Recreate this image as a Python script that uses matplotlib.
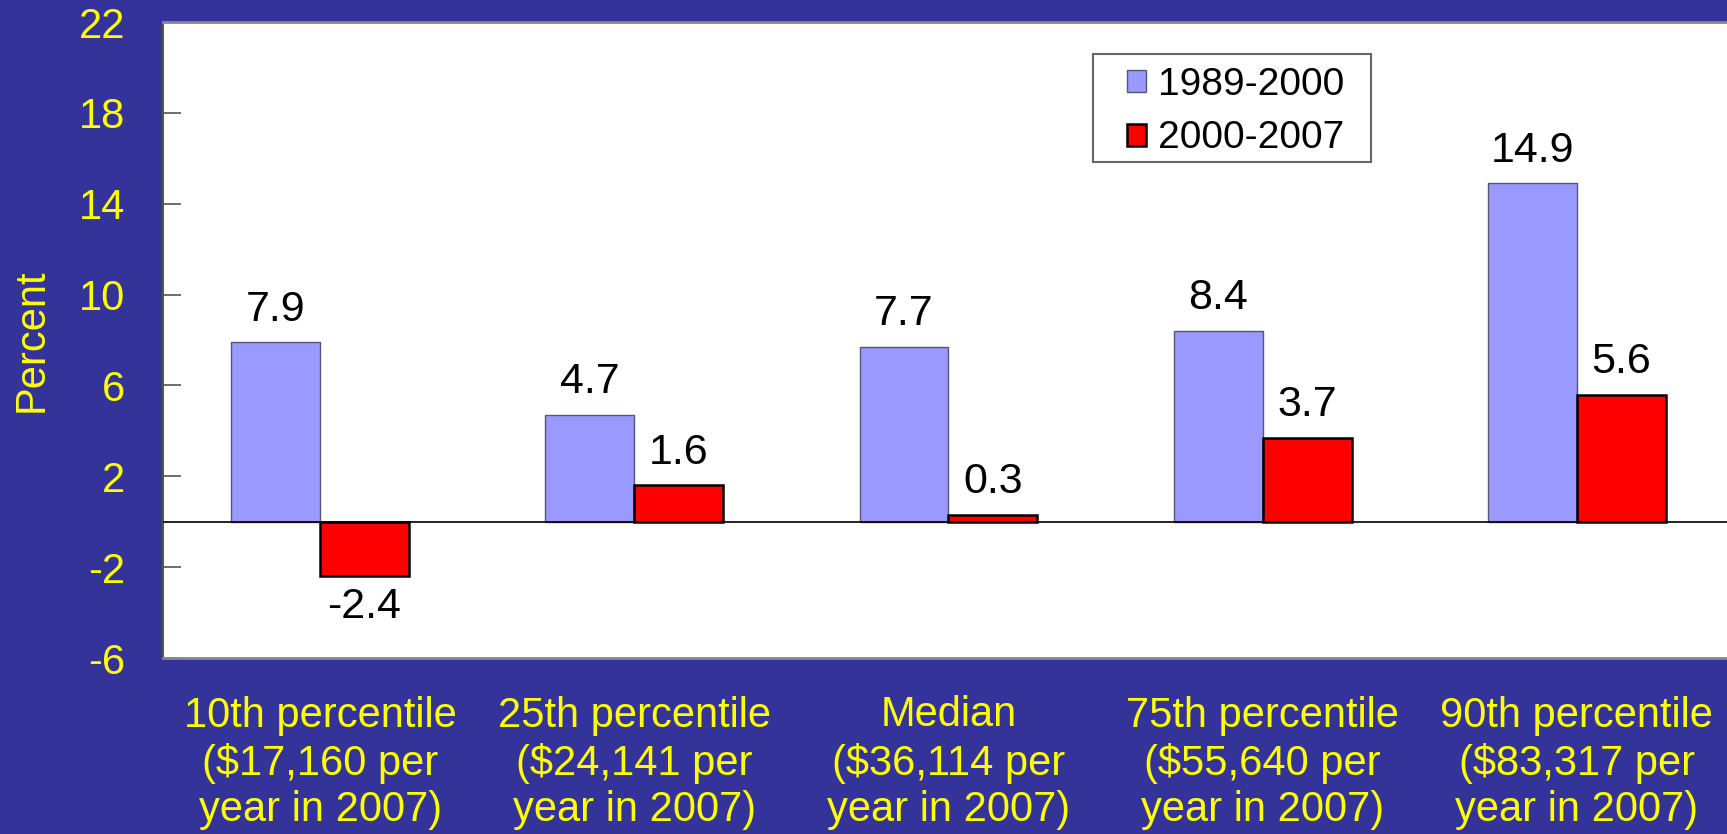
import numpy as np
import matplotlib.pyplot as plt
from matplotlib.patches import Rectangle

# data
categories = ['10th percentile\n($17,160 per\nyear in 2007)',
              '25th percentile\n($24,141 per\nyear in 2007)',
              'Median\n($36,114 per\nyear in 2007)',
              '75th percentile\n($55,640 per\nyear in 2007)',
              '90th percentile\n($83,317 per\nyear in 2007)']
s1989_2000 = [7.9, 4.7, 7.7, 8.4, 14.9]
s2000_2007 = [-2.4, 1.6, 0.3, 3.7, 5.6]
yticks = [-6, -2, 2, 6, 10, 14, 18, 22]

plt.rcParams['font.family'] = ['Liberation Sans', 'DejaVu Sans']

bg = '#333399'
yellow = '#FFFF00'

fig = plt.figure(figsize=(17.27, 8.34), dpi=100, facecolor=bg)
ax = fig.add_axes([163 / 1727, 1 - 658 / 834, 1 - 163 / 1727 + 0.004, 636 / 834])
ax.set_facecolor('white')

x = np.arange(len(categories))
w = 0.283
b1 = ax.bar(x - w / 2, s1989_2000, w, color='#9999FF', edgecolor='#555577', linewidth=1.0,
            label='1989-2000', zorder=2)
b2 = ax.bar(x + w / 2, s2000_2007, w, color='#FF0000', edgecolor='black', linewidth=1.8,
            label='2000-2007', zorder=2)

ax.axhline(0, color='black', linewidth=1.2, zorder=3)

for bars, vals in ((b1, s1989_2000), (b2, s2000_2007)):
    for rect, v in zip(bars, vals):
        cx = rect.get_x() + rect.get_width() / 2
        if v >= 0:
            ax.annotate(f'{v}', (cx, v), xytext=(0, 9), textcoords='offset points',
                        ha='center', va='bottom', fontsize=31, color='black')
        else:
            ax.annotate(f'{v}', (cx, v), xytext=(0, -8), textcoords='offset points',
                        ha='center', va='top', fontsize=31, color='black')

ax.set_xlim(-0.5, 4.5)
ax.set_ylim(-6, 22)
ax.set_yticks(yticks)
ax.set_yticklabels([str(t) for t in yticks])
ax.set_xticks(x)
ax.set_xticklabels(categories, linespacing=1.22)

ax.tick_params(axis='y', direction='in', length=13, width=1.2, color='#555555',
               labelsize=30, labelcolor=yellow, pad=27)
ax.tick_params(axis='x', length=0, labelsize=30, labelcolor=yellow, pad=27)

for side in ('top', 'bottom'):
    ax.spines[side].set_color('#888888')
    ax.spines[side].set_linewidth(2)
ax.spines['left'].set_color('#555555')
ax.spines['left'].set_linewidth(1.5)
ax.spines['right'].set_visible(False)

ax.set_ylabel('Percent', color=yellow, fontsize=30, labelpad=20)

# legend box
box = Rectangle((1093 / 1727, 1 - 162 / 834), 278 / 1727, 108 / 834, transform=fig.transFigure,
                facecolor='white', edgecolor='#666666', linewidth=1.5, zorder=4)
ax.add_patch(box)
box.set_clip_on(False)
leg = ax.legend(loc='upper left', bbox_to_anchor=(1127 / 1727, 1 - 67 / 834),
                bbox_transform=fig.transFigure, fontsize=28, frameon=False,
                handlelength=0.5, handleheight=0.5, handletextpad=0.3,
                labelspacing=0.45, borderpad=0, borderaxespad=0)
leg.set_zorder(5)

fig.savefig('out.png', dpi=100, facecolor=bg)
